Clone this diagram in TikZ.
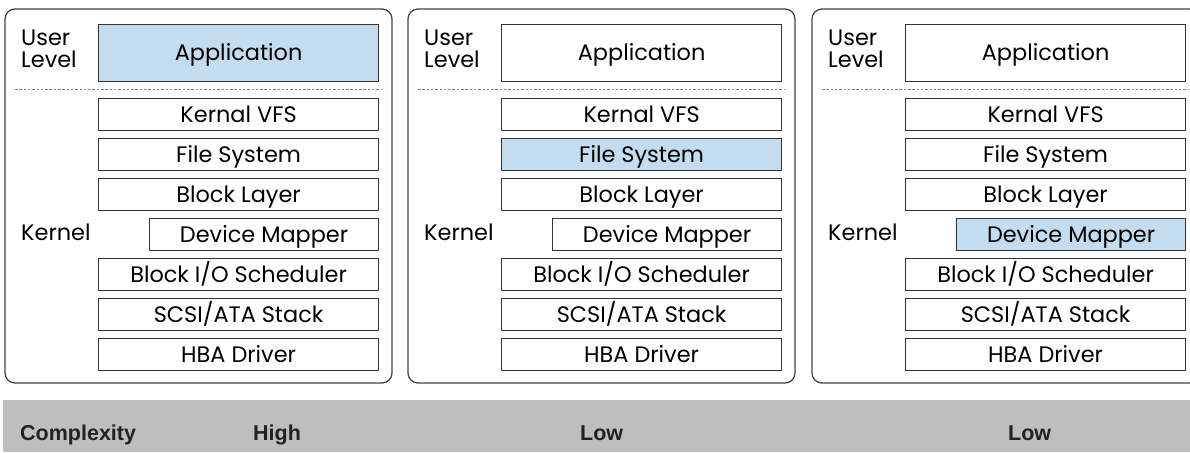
\documentclass[tikz,border=0pt]{standalone}
\usepackage{fontspec}
\setmainfont{Poppins}
\newfontfamily\bandfont{Liberation Sans}
\definecolor{hlblue}{HTML}{C3DCEF}
\definecolor{boxline}{HTML}{333333}
\definecolor{panelline}{HTML}{444444}
\definecolor{bandgray}{HTML}{BEBEBE}
\definecolor{bandtext}{HTML}{222222}
\begin{document}
\begin{tikzpicture}[x=1pt,y=-1pt,
  layer/.style={draw=boxline,line width=1.2pt,fill=white,rectangle,anchor=north west,
    minimum height=32pt,inner sep=0pt,text height=15.5pt,text depth=0pt,
    font=\fontsize{22.4}{23}\selectfont},
  hl/.style={layer,fill=hlblue},
  panel/.style={draw=panelline,line width=1.3pt,rounded corners=10pt},
  lbl/.style={inner sep=0pt,font=\fontsize{22.4}{21.5}\selectfont,align=left},
  bandlbl/.style={inner sep=0pt,anchor=base west,text=bandtext,
    font=\bandfont\bfseries\fontsize{21.5}{24}\selectfont}]
\useasboundingbox (0,0) rectangle (1190,452);
\foreach \i/\x/\sa/\sf/\sd in {1/5/hl/layer/layer,2/408/layer/hl/layer,3/812/layer/layer/hl}{
  \begin{scope}[xshift=\x pt]
    \draw[panel] (0,9) rectangle (387,383);
    \node[\sa,minimum width=280pt,minimum height=57pt] (app\i) at (93,24) {Application};
    \draw[gray,line width=0.6pt,dash pattern=on 2.5pt off 1.8pt] (10,89) -- (377,89);
    \node[layer,minimum width=280pt] (vfs\i) at (93,98) {Kernal VFS};
    \node[\sf,minimum width=280pt] (fs\i) at (93,138) {File System};
    \node[layer,minimum width=280pt] (bl\i) at (93,178) {Block Layer};
    \node[\sd,minimum width=229pt] (dm\i) at (144,218) {Device Mapper};
    \node[layer,minimum width=280pt] (bio\i) at (93,258) {Block I/O Scheduler};
    \node[layer,minimum width=280pt] (scsi\i) at (93,298) {SCSI/ATA Stack};
    \node[layer,minimum width=280pt] (hba\i) at (93,338) {HBA Driver};
    \node[lbl,anchor=west] (user\i) at (16,49) {User\\Level};
    \node[lbl,anchor=base west] (kern\i) at (16,240) {Kernel};
  \end{scope}
}
\fill[bandgray] (3,400) rectangle (1190,452);
\node[bandlbl] (cx) at (20,440) {Complexity};
\node[bandlbl] (c1) at (253,440) {High};
\node[bandlbl] (c2) at (580,440) {Low};
\node[bandlbl] (c3) at (1008,440) {Low};
\end{tikzpicture}
\end{document}
